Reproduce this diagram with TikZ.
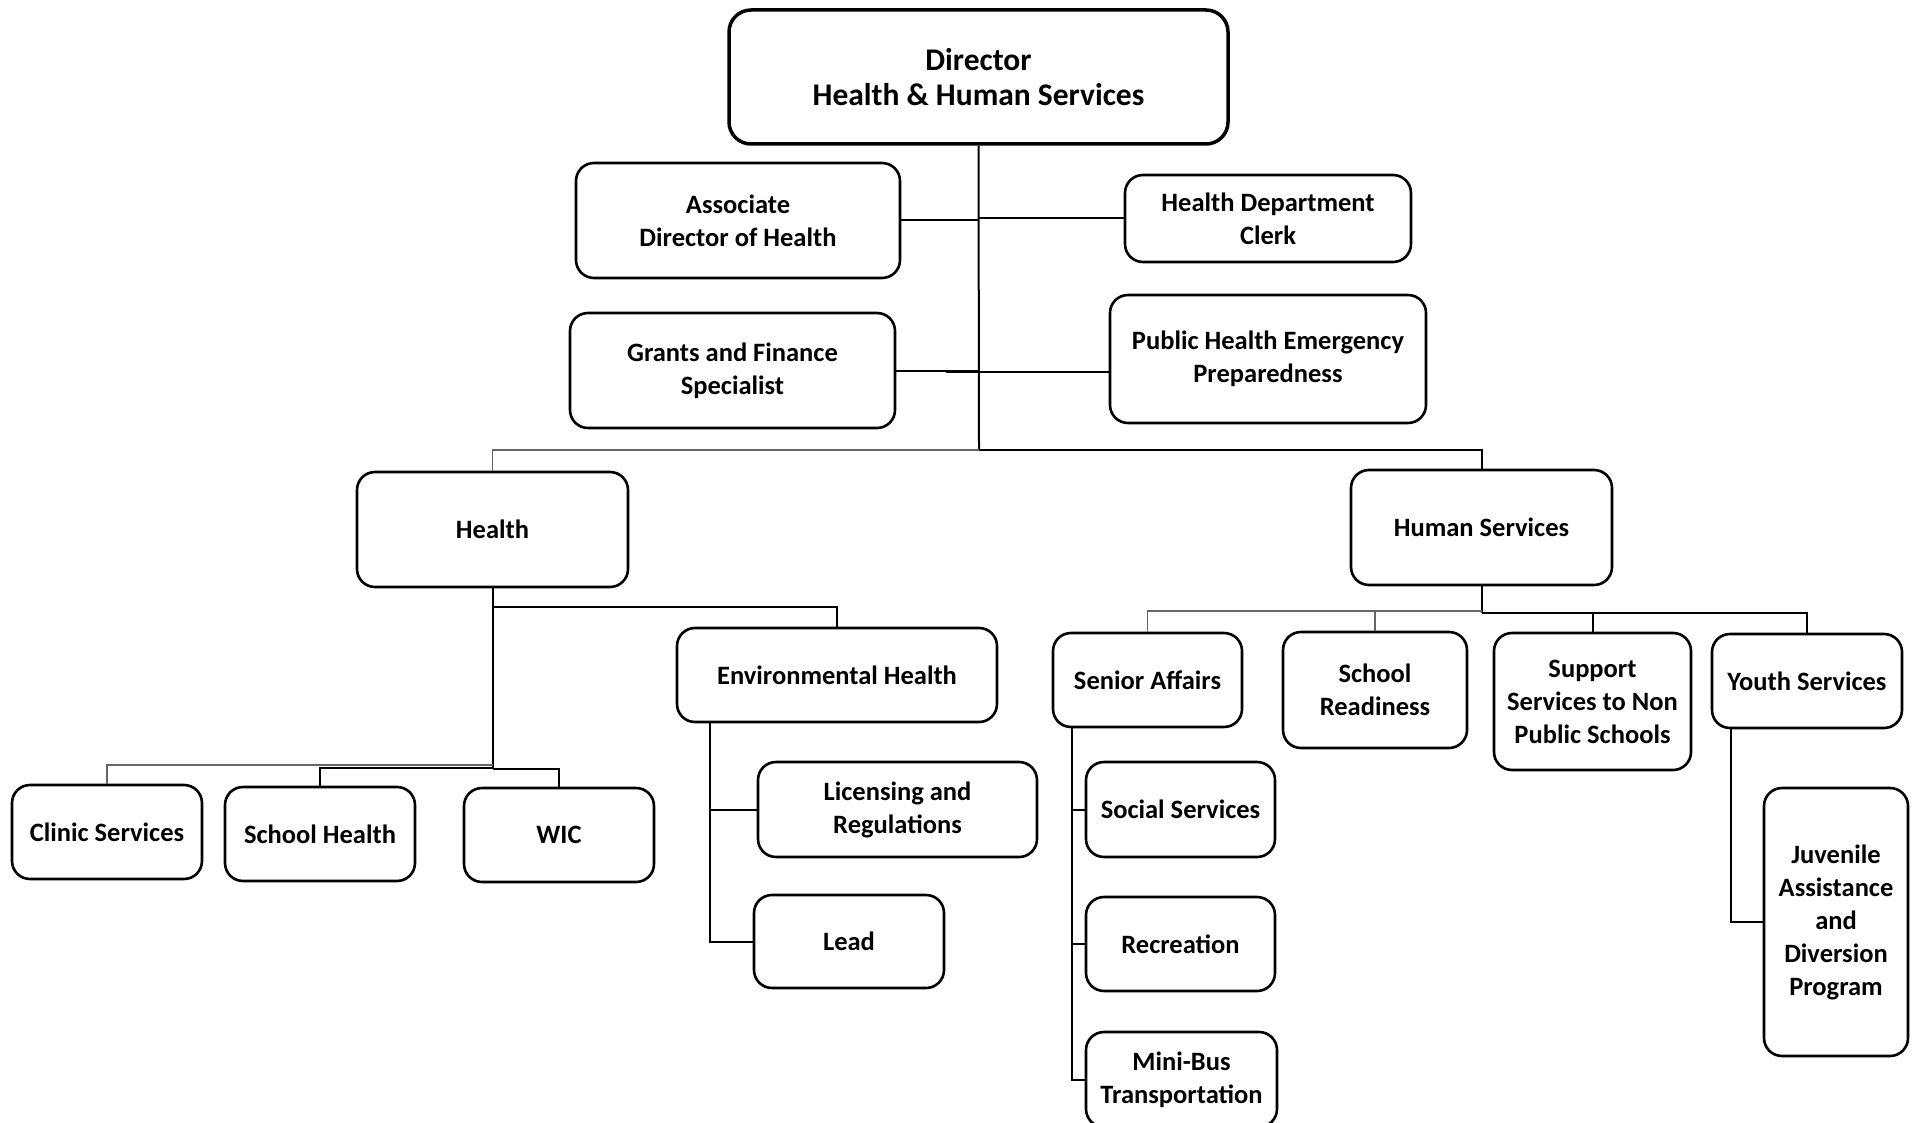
\documentclass[tikz,border=0pt]{standalone}
\usepackage{fontspec}
\setmainfont{Carlito}
\begin{document}
\begin{tikzpicture}[x=1pt,y=-1pt,
  box/.style={draw, line width=2.6pt, rounded corners=18pt, align=center, inner sep=0pt,
    font=\bfseries\fontsize{26.5}{33}\selectfont},
  conn/.style={draw, line width=2pt, black},
  thinconn/.style={draw, line width=1.5pt, black!60}]
\useasboundingbox[fill=white] (0,0) rectangle (1919,1123);

% nodes
\node[box, line width=3.5pt, rounded corners=22pt, minimum width=499pt, minimum height=134pt,
  font=\bfseries\fontsize{31.5}{35}\selectfont] (dir) at (978.5,77) {Director\\Health \& Human Services};
\node[box, minimum width=324pt, minimum height=115pt] (assoc) at (738,220.5) {Associate\\Director of Health};
\node[box, minimum width=286pt, minimum height=87pt] (clerk) at (1268,218.5) {Health Department\\Clerk};
\node[box, minimum width=325pt, minimum height=115pt] (grants) at (732.5,370.5) {Grants and Finance\\Specialist};
\node[box, minimum width=316pt, minimum height=128pt] (phep) at (1268,359) {Public Health Emergency\\Preparedness};
\node[box, minimum width=271pt, minimum height=115pt] (health) at (492.5,529.5) {Health};
\node[box, minimum width=261pt, minimum height=115pt] (hs) at (1481.5,527.5) {Human Services};
\node[box, minimum width=320pt, minimum height=94pt] (env) at (837,675) {Environmental Health};
\node[box, minimum width=190pt, minimum height=94pt] (clinic) at (107,832) {Clinic Services};
\node[box, minimum width=190pt, minimum height=94pt] (school) at (320,834) {School Health};
\node[box, minimum width=190pt, minimum height=94pt] (wic) at (559,835) {WIC};
\node[box, minimum width=279pt, minimum height=95pt] (lic) at (897.5,809.5) {Licensing and\\Regulations};
\node[box, minimum width=190pt, minimum height=93pt] (lead) at (849,941.5) {Lead};
\node[box, minimum width=189pt, minimum height=94pt] (senior) at (1147.5,680) {Senior Affairs};
\node[box, minimum width=184pt, minimum height=116pt] (ready) at (1375,690) {School\\Readiness};
\node[box, minimum width=197pt, minimum height=137pt] (support) at (1592.5,701.5) {Support\\Services to Non\\Public Schools};
\node[box, minimum width=190pt, minimum height=94pt] (youth) at (1807,681) {Youth Services};
\node[box, minimum width=189pt, minimum height=95pt] (social) at (1180.5,809.5) {Social Services};
\node[box, minimum width=189pt, minimum height=94pt] (rec) at (1180.5,944) {Recreation};
\node[box, minimum width=191pt, minimum height=95pt] (minibus) at (1181.5,1079.5) {Mini-Bus\\Transportation};
\node[box, minimum width=144pt, minimum height=268pt] (juv) at (1836,922) {Juvenile\\Assistance\\and\\Diversion\\Program};

% top trunk
\coordinate (hub) at (979,450);
\coordinate (pj) at (946,372);
\draw[conn] (dir.south) -- (hub);
\draw[conn] (assoc.east) -- (assoc.east -| hub);
\draw[conn] (clerk.west) -- (clerk.west -| hub);
\draw[conn] (grants.east) -- (grants.east -| hub);
\draw[conn] (phep.west |- pj) -- (pj);
\draw[thinconn] (hub) -- (hub -| health) -- (health.north);
\draw[conn] (hub) -- (hub -| hs) -- (hs.north);

% health branch
\coordinate (envj) at (492.5,607);
\coordinate (cj) at (492.5,765);
\coordinate (sj) at (492.5,767.5);
\coordinate (wj) at (492.5,769);
\draw[conn] (health.south) -- (wj);
\draw[conn] (envj) -- (envj -| env) -- (env.north);
\draw[thinconn] (cj) -- (cj -| clinic) -- (clinic.north);
\draw[conn] (sj) -- (sj -| school) -- (school.north);
\draw[conn] (wj) -- (wj -| wic) -- (wic.north);

% environmental health branch
\coordinate (envx) at (710,0);
\draw[conn] (env.south -| envx) -- (envx |- lead) -- (lead.west);
\draw[conn] (envx |- lic) -- (lic.west);

% human services branch
\coordinate (hsl) at (1481.5,611);
\coordinate (hsr) at (1481.5,613);
\draw[conn] (hs.south) -- (hsr);
\draw[thinconn] (hsl) -- (hsl -| senior) -- (senior.north);
\draw[thinconn] (hsl -| ready) -- (ready.north);
\draw[conn] (hsr) -- (hsr -| youth) -- (youth.north);
\draw[conn] (hsr -| support) -- (support.north);

% senior affairs branch
\coordinate (snx) at (1072,0);
\draw[conn] (senior.south -| snx) -- (snx |- minibus) -- (minibus.west);
\draw[conn] (snx |- social) -- (social.west);
\draw[conn] (snx |- rec) -- (rec.west);

% youth branch
\coordinate (yx) at (1731,0);
\draw[conn] (youth.south -| yx) -- (yx |- juv) -- (juv.west);
\end{tikzpicture}
\end{document}
